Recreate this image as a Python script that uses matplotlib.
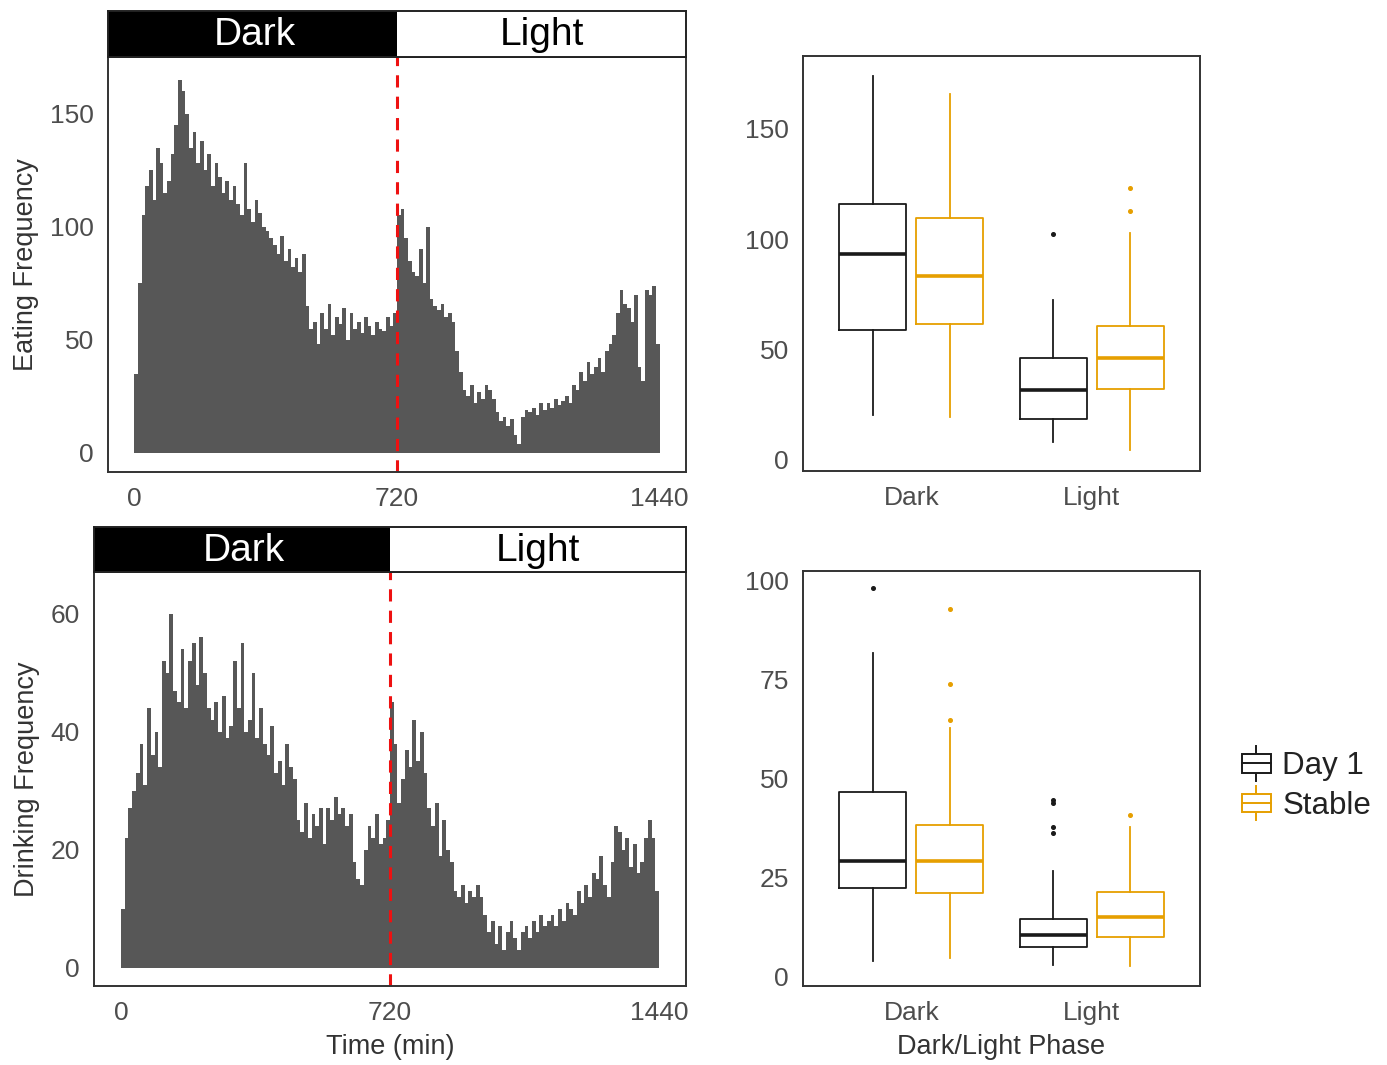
import matplotlib
matplotlib.use("Agg")
import matplotlib.pyplot as plt
from matplotlib.patches import Rectangle, Patch
from matplotlib.lines import Line2D
from matplotlib.legend_handler import HandlerBase
import numpy as np

plt.rcParams['font.family'] = ['Liberation Sans', 'DejaVu Sans']

# ---------------- data ----------------
bin_width = 10  # minutes
eating_freq = [
    35, 75, 105,
    118, 125, 112, 135, 128, 115, 120,
    132, 145,
    165, 160,
    150, 135, 142, 128, 138,
    125, 132, 118, 128, 122, 115, 120, 112, 118,
    110, 105, 128, 108, 102, 112, 106, 100, 98,
    95, 92, 88, 96, 85, 90, 82, 86, 80,
    88, 65, 55,
    58, 48, 62, 55, 66, 52, 60, 57, 64, 50, 62, 55, 58, 53, 60, 56, 52, 58, 55, 54, 60, 56, 62,
    105, 108, 95,
    85, 80, 78, 90, 75, 100,
    68, 65, 63, 66, 60, 62, 58,
    45, 36,
    28, 25, 30, 22, 27, 24, 30, 28, 24,
    18, 14, 16, 12, 15, 8,
    4, 16, 19, 18, 20, 17, 22, 19,
    22, 20, 24, 21, 23, 25, 22,
    30, 28, 36, 32, 40, 35,
    38, 42, 36, 45, 48, 52,
    62, 72, 66, 64, 58, 70,
    38, 32, 72, 70, 74, 48,
]
drinking_freq = [
    10, 22, 27,
    30, 33, 38, 31, 44, 36,
    40, 34, 52,
    50, 60, 47,
    45, 54, 44, 52,
    55, 48, 56, 50, 44,
    42, 45, 40, 46, 39, 41,
    52, 44, 55, 40,
    42, 50, 39, 44, 38,
    36, 41, 33, 35, 31, 38, 34, 32,
    25, 23, 28, 22, 26, 24, 27, 21,
    27, 25, 29, 26, 27, 24, 26,
    18, 15, 14, 20,
    24, 22, 26, 21, 22, 25,
    45, 38,
    28, 32,
    37, 34, 42, 35, 40, 33,
    27, 24, 28, 19, 25, 20, 18,
    13, 12, 14, 11, 13, 12, 14, 12,
    9, 6, 8, 4, 7, 3, 6, 8,
    5, 3, 6, 7, 5, 8, 6, 9,
    7, 8, 9, 7, 10, 8, 11,
    10, 9, 13, 11, 14, 12, 16,
    15, 19, 14, 12,
    18, 24, 23,
    20, 22, 17, 21, 16, 18,
    22, 25, 22, 13,
]
time_ticks = [0, 720, 1440]
phase_change = 720
phases = ["Dark", "Light"]
groups = ["Day 1", "Stable"]

# box stats: (whislo, q1, med, q3, whishi, fliers)
eat_box = {
    ("Dark", "Day 1"): (20.4, 58.8, 93.2, 115.8, 174.0, []),
    ("Dark", "Stable"): (19.5, 61.5, 83.3, 109.5, 166.0, []),
    ("Light", "Day 1"): (8.1, 18.5, 31.7, 46.2, 72.4, [102.3]),
    ("Light", "Stable"): (4.5, 32.0, 46.2, 60.6, 103.0, [112.7, 123.0]),
}
drink_box = {
    ("Dark", "Day 1"): (4.0, 22.4, 29.2, 46.6, 81.6, [98.0]),
    ("Dark", "Stable"): (4.8, 21.2, 29.2, 38.3, 62.7, [64.7, 73.8, 92.7]),
    ("Light", "Day 1"): (3.0, 7.6, 10.6, 14.6, 26.7, [36.3, 37.8, 43.8, 44.6]),
    ("Light", "Stable"): (2.8, 10.0, 15.1, 21.4, 37.8, [40.8]),
}

# ---------------- styling ----------------
W, H = 1387, 1065
fig = plt.figure(figsize=(W / 100, H / 100), dpi=100)
tick_color = "#4D4D4D"
title_color = "#333333"
frame_lw = 1.4
colors = {"Day 1": "#1A1A1A", "Stable": "#E69F00"}
bar_color = "#575757"
title_size = 19.5


def fr(x0, y0, x1, y1):
    return [x0 / W, 1 - y1 / H, (x1 - x0) / W, (y1 - y0) / H]


def style_frame(ax):
    for s in ax.spines.values():
        s.set_linewidth(frame_lw)
        s.set_color("#333333")
    ax.tick_params(length=0, labelsize=19, colors=tick_color)
    ax.tick_params(axis="x", pad=11)
    ax.tick_params(axis="y", pad=10)


def hist_panel(rect, strip_rect, values, ylim, yticks, ylabel, xlabel=None):
    ax = fig.add_axes(rect)
    starts = np.arange(len(values)) * bin_width
    ax.bar(starts, values, width=bin_width, align="edge", color=bar_color,
           linewidth=0)
    xlim = (-72, 1512)
    ax.set_xlim(*xlim)
    ax.set_ylim(*ylim)
    ax.axvline(phase_change, color="#EE1111", lw=2.2, ls=(0, (4, 3)))
    ax.set_xticks(time_ticks)
    ax.set_yticks(yticks)
    style_frame(ax)
    ax.set_ylabel(ylabel, fontsize=title_size, color=title_color, labelpad=8)
    if xlabel:
        ax.set_xlabel(xlabel, fontsize=title_size, color=title_color,
                      labelpad=6)
    # strip
    sx = fig.add_axes(strip_rect)
    sx.set_xlim(*xlim)
    sx.set_ylim(0, 1)
    sx.add_patch(Rectangle((xlim[0], 0), phase_change - xlim[0], 1,
                           color="black", lw=0))
    sx.add_patch(Rectangle((phase_change, 0), xlim[1] - phase_change, 1,
                           facecolor="white", lw=0))
    sx.text((xlim[0] + phase_change) / 2 + 6, 0.47, "Dark", color="white",
            fontsize=28, ha="center", va="center")
    sx.text((phase_change + xlim[1]) / 2, 0.47, "Light", color="black",
            fontsize=28, ha="center", va="center")
    sx.set_xticks([])
    sx.set_yticks([])
    for s in sx.spines.values():
        s.set_linewidth(frame_lw)
        s.set_color("#222222")
    return ax


def box_panel(rect, stats, ylim, yticks, xlabel=None):
    ax = fig.add_axes(rect)
    offsets = {"Day 1": -0.213, "Stable": 0.213}
    for pi, ph in enumerate(phases):
        for g in groups:
            lo, q1, med, q3, hi, fl = stats[(ph, g)]
            c = colors[g]
            st = [dict(whislo=lo, q1=q1, med=med, q3=q3, whishi=hi, fliers=fl)]
            ax.bxp(st, positions=[pi + 1 + offsets[g]], widths=0.37,
                   showcaps=False, patch_artist=False,
                   boxprops=dict(color=c, lw=1.3),
                   whiskerprops=dict(color=c, lw=1.3),
                   medianprops=dict(color=c, lw=2.6),
                   flierprops=dict(marker="o", markersize=2.6,
                                   markerfacecolor=c, markeredgecolor=c))
    ax.set_xlim(0.4, 2.6)
    ax.set_ylim(*ylim)
    ax.set_xticks([1, 2])
    ax.set_xticklabels(phases)
    ax.set_yticks(yticks)
    style_frame(ax)
    if xlabel:
        ax.set_xlabel(xlabel, fontsize=title_size, color=title_color,
                      labelpad=6)
    return ax


hist_panel(fr(108, 57, 686, 472), fr(108, 11, 686, 57), eating_freq,
           (-8.4, 175), [0, 50, 100, 150], "Eating Frequency")
hist_panel(fr(94, 572, 686, 986), fr(94, 527, 686, 572), drinking_freq,
           (-3.1, 67.1), [0, 20, 40, 60], "Drinking Frequency",
           xlabel="Time (min)")

box_panel(fr(803, 56, 1200, 471), eat_box, (-5, 183), [0, 50, 100, 150])
box_panel(fr(803, 571, 1200, 986), drink_box, (-2.3, 102.3),
          [0, 25, 50, 75, 100], xlabel="Dark/Light Phase")


class BoxHandler(HandlerBase):
    def create_artists(self, legend, orig_handle, xdescent, ydescent,
                       width, height, fontsize, trans):
        c = orig_handle.get_edgecolor()
        x0, x1 = -xdescent + width * 0.05, -xdescent + width * 0.95
        y0 = -ydescent + height * 0.1
        y1 = -ydescent + height * 0.9
        ym = (y0 + y1) / 2
        xm = (x0 + x1) / 2
        r = Rectangle((x0, y0), x1 - x0, y1 - y0, facecolor="white",
                      edgecolor=c, lw=1.4, transform=trans)
        m = Line2D([x0, x1], [ym, ym], color=c, lw=1.4, transform=trans)
        w1 = Line2D([xm, xm], [y1, y1 + height * 0.35], color=c, lw=1.4,
                    transform=trans)
        w2 = Line2D([xm, xm], [y0, y0 - height * 0.35], color=c, lw=1.4,
                    transform=trans)
        return [w1, w2, r, m]


handles = [Patch(edgecolor=colors[g], facecolor="white") for g in groups]
leg = fig.legend(handles, groups, handler_map={Patch: BoxHandler()},
                 loc="center left", bbox_to_anchor=(1240 / W, 1 - 786 / H),
                 frameon=False, fontsize=22.5, handlelength=1.05,
                 handleheight=0.75, handletextpad=0.3, labelspacing=0.3,
                 borderpad=0, borderaxespad=0)
for t in leg.get_texts():
    t.set_color("#222222")

fig.savefig("out.png", dpi=100, facecolor="white")
